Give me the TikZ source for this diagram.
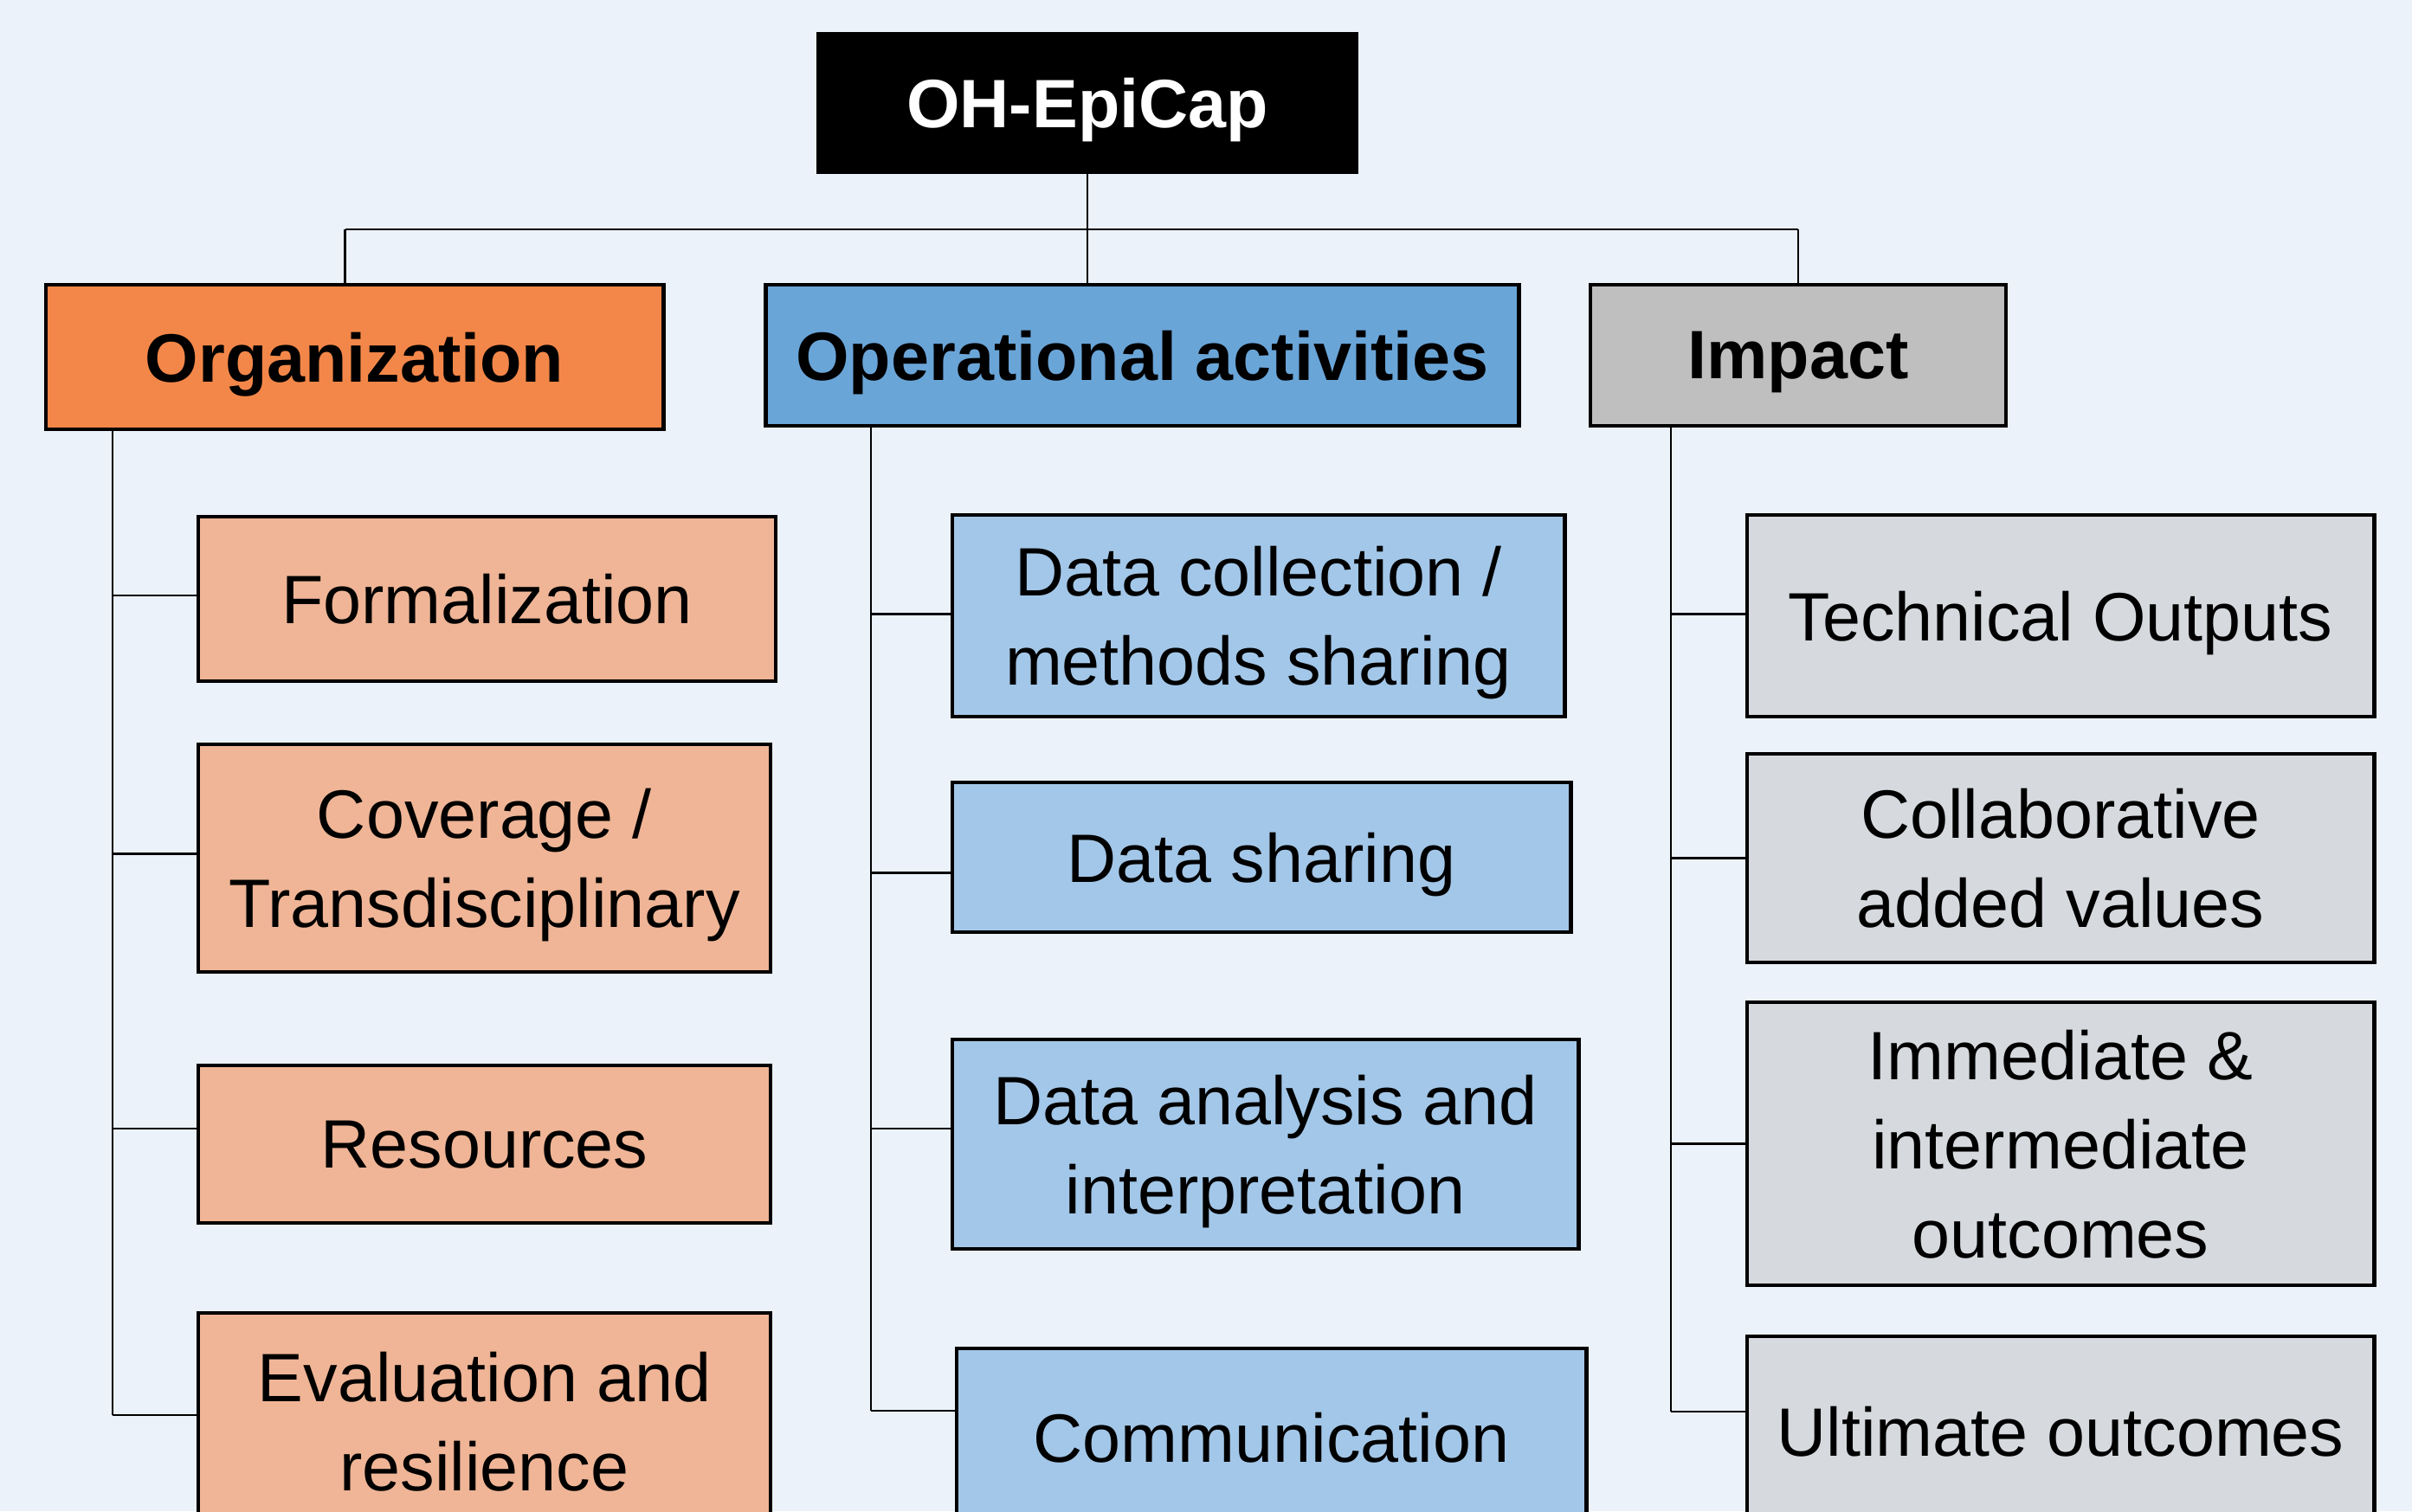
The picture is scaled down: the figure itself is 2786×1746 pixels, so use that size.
\documentclass[tikz,border=0pt]{standalone}
\usepackage{fontspec}
\setmainfont{Liberation Sans}
\usetikzlibrary{calc}

\definecolor{bgblue}{RGB}{235,242,250}
\definecolor{orghead}{RGB}{243,135,73}
\definecolor{orgsub}{RGB}{239,181,150}
\definecolor{ophead}{RGB}{106,165,216}
\definecolor{opsub}{RGB}{163,199,232}
\definecolor{imphead}{RGB}{191,191,191}
\definecolor{impsub}{RGB}{214,218,222}

\begin{document}
\begin{tikzpicture}[x=0.01cm, y=-0.01cm,
    font=\fontsize{22.5}{29.3}\selectfont,
    box/.style={draw, line width=1.3pt, align=center, inner sep=0pt, text depth=0pt},
    head/.style={box, font=\fontsize{22.5}{29.3}\selectfont\bfseries},
    link/.style={line width=0.6pt}]
  \useasboundingbox (0,0) rectangle (2786,1746);
  \clip (0,0) rectangle (2786,1746);
  \fill[bgblue] (0,0) rectangle (2786,1746);

  % top
  \node[head, fill=black, text=white, minimum width=6.22cm, minimum height=1.6cm] (root) at (1256,119) {OH-EpiCap};

  % headers
  \node[head, fill=orghead, minimum width=7.13cm, minimum height=1.67cm] (org) at (409.5,412.5) {Organization};
  \node[head, fill=ophead, minimum width=8.69cm, minimum height=1.63cm] (op) at (1319.5,410.5) {Operational activities};
  \node[head, fill=imphead, minimum width=4.8cm, minimum height=1.63cm] (imp) at (2077,410.5) {Impact};

  % organization
  \node[box, fill=orgsub, minimum width=6.67cm, minimum height=1.9cm] (form) at (562.5,692) {Formalization};
  \node[box, fill=orgsub, minimum width=6.61cm, minimum height=2.63cm] (cov) at (559.5,991.5) {Coverage /\\Transdisciplinary};
  \node[box, fill=orgsub, minimum width=6.61cm, minimum height=1.82cm] (res) at (559.5,1322) {Resources};
  \node[box, fill=orgsub, minimum width=6.61cm, minimum height=2.5cm] (eva) at (559.5,1642) {Evaluation and\\resilience};

  % operational activities
  \node[box, fill=opsub, minimum width=7.07cm, minimum height=2.33cm] (coll) at (1453.5,711.5) {Data collection /\\methods sharing};
  \node[box, fill=opsub, minimum width=7.14cm, minimum height=1.73cm] (share) at (1457,990.5) {Data sharing};
  \node[box, fill=opsub, minimum width=7.23cm, minimum height=2.42cm] (ana) at (1461.5,1322) {Data analysis and\\interpretation};
  \node[box, fill=opsub, minimum width=7.27cm, minimum height=2.06cm] (comm) at (1468.5,1661) {Communication};

  % impact
  \node[box, fill=impsub, minimum width=7.24cm, minimum height=2.33cm] (tech) at (2380,711.5) {Technical Outputs};
  \node[box, fill=impsub, minimum width=7.24cm, minimum height=2.41cm] (collab) at (2380,991.5) {Collaborative\\added values};
  \node[box, fill=impsub, minimum width=7.24cm, minimum height=3.27cm] (immed) at (2380,1321.5) {Immediate \&\\intermediate\\outcomes};
  \node[box, fill=impsub, minimum width=7.24cm, minimum height=2.2cm] (ult) at (2380,1654) {Ultimate outcomes};

  % tree from the top
  \coordinate (bus) at (0,265);
  \coordinate (orgtop) at ($(org.north)+(-11,0)$);
  \draw[link] (root) -- (root |- op.north);
  \draw[link] (orgtop |- bus) -- (imp.north |- bus);
  \draw[link] (orgtop |- bus) -- (orgtop);
  \draw[link] (imp.north |- bus) -- (imp.north);

  % trunks
  \coordinate (orgT) at (130,496);
  \coordinate (opT) at (1006,492);
  \coordinate (impT) at (1930,492);
  \draw[link] (orgT) -- ($(eva.west -| orgT)+(0,-7)$);
  \draw[link] (opT) -- ($(comm.west -| opT)+(0,-31)$);
  \draw[link] (impT) -- ($(ult.west -| impT)+(0,-23)$);

  % branches
  \draw[link] ($(form.west -| orgT)+(0,-4)$) -- ($(form.west)+(0,-4)$);
  \draw[link] ($(cov.west -| orgT)+(0,-5)$) -- ($(cov.west)+(0,-5)$);
  \draw[link] ($(res.west -| orgT)+(0,-18)$) -- ($(res.west)+(0,-18)$);
  \draw[link] ($(eva.west -| orgT)+(0,-7)$) -- ($(eva.west)+(0,-7)$);
  \draw[link] ($(coll.west -| opT)+(0,-2)$) -- ($(coll.west)+(0,-2)$);
  \draw[link] ($(share.west -| opT)+(0,18)$) -- ($(share.west)+(0,18)$);
  \draw[link] ($(ana.west -| opT)+(0,-18)$) -- ($(ana.west)+(0,-18)$);
  \draw[link] ($(comm.west -| opT)+(0,-31)$) -- ($(comm.west)+(0,-31)$);
  \draw[link] ($(tech.west -| impT)+(0,-2)$) -- ($(tech.west)+(0,-2)$);
  \draw[link] (collab.west -| impT) -- (collab.west);
  \draw[link] (immed.west -| impT) -- (immed.west);
  \draw[link] ($(ult.west -| impT)+(0,-23)$) -- ($(ult.west)+(0,-23)$);
\end{tikzpicture}
\end{document}
